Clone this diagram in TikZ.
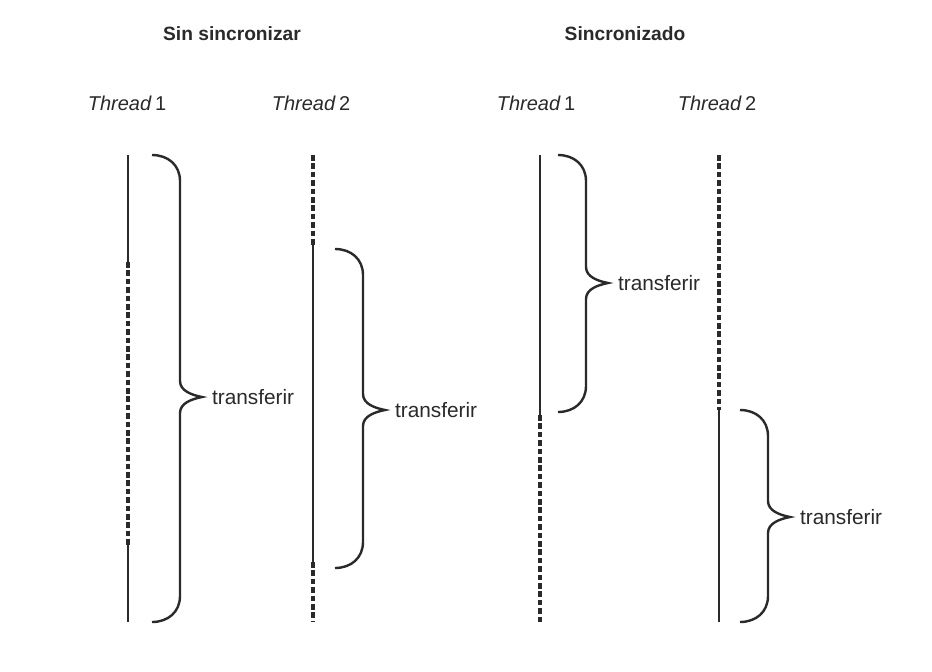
\documentclass[tikz,border=0pt]{standalone}
\usepackage{fontspec}
\setmainfont{Liberation Sans}
\usetikzlibrary{positioning}

\definecolor{TintaGris}{HTML}{2A2A2A}

\tikzset{
  hilo/.style={line width=1.2pt, draw=TintaGris},
  espera/.style={line width=1.6pt, draw=TintaGris, dash pattern=on 2.8pt off 1.4pt},
  llave/.style={line width=1.2pt, draw=TintaGris},
  titulo/.style={font=\bfseries\fontsize{9.6}{11}\selectfont, text=TintaGris},
  hebra/.style={font=\fontsize{10}{12}\selectfont, text=TintaGris},
  etiqueta/.style={font=\fontsize{10.4}{12}\selectfont, text=TintaGris, anchor=west}
}

% brace: name, left x, top y, tip y, bottom y
\newcommand{\llave}[5]{%
  \draw[llave] (#2,#3) .. controls +(16,0) and +(0,-16) .. (#2+28,#3+26)
    -- (#2+28,#4-16) .. controls +(0,10) and +(-10,-2) .. (#2+50,#4)
    .. controls +(-10,2) and +(0,-10) .. (#2+28,#4+16)
    -- (#2+28,#5-26) .. controls +(0,16) and +(16,0) .. (#2,#5);
  \node[etiqueta] (#1) at (#2+53,#4) {transferir};
}

\begin{document}
\begin{tikzpicture}[x=0.5pt, y=-0.5pt]
  \useasboundingbox[fill=white] (0,0) rectangle (932,671);

  \node[titulo] (sinsinc) at (232,34) {Sin sincronizar};
  \node[titulo] (sinc) at (625,34) {Sincronizado};

  \node[hebra] (a1) at (127,103) {\textit{Thread}\,1};
  \node[hebra] (a2) at (311,103) {\textit{Thread}\,2};
  \node[hebra] (b1) at (536,103) {\textit{Thread}\,1};
  \node[hebra] (b2) at (717,103) {\textit{Thread}\,2};

  % sin sincronizar
  \coordinate (a1t) at (128,155);
  \coordinate (a1p) at (128,262);
  \coordinate (a1r) at (128,545);
  \coordinate (a1b) at (128,622);
  \draw[hilo] (a1t) -- (a1p);
  \draw[espera] (a1p) -- (a1r);
  \draw[hilo] (a1r) -- (a1b);

  \coordinate (a2t) at (313,155);
  \coordinate (a2p) at (313,245);
  \coordinate (a2r) at (313,562);
  \coordinate (a2b) at (313,622);
  \draw[espera] (a2t) -- (a2p);
  \draw[hilo] (a2p) -- (a2r);
  \draw[espera] (a2r) -- (a2b);

  \llave{tr1}{152}{155}{397}{622}
  \llave{tr2}{335}{249}{410}{568}

  % sincronizado
  \coordinate (b1t) at (540,155);
  \coordinate (b1p) at (540,415);
  \coordinate (b1b) at (540,622);
  \draw[hilo] (b1t) -- (b1p);
  \draw[espera] (b1p) -- (b1b);

  \coordinate (b2t) at (719,155);
  \coordinate (b2p) at (719,410);
  \coordinate (b2b) at (719,622);
  \draw[espera] (b2t) -- (b2p);
  \draw[hilo] (b2p) -- (b2b);

  \llave{tr3}{558}{155}{283}{412}
  \llave{tr4}{740}{410}{517}{622}
\end{tikzpicture}
\end{document}
